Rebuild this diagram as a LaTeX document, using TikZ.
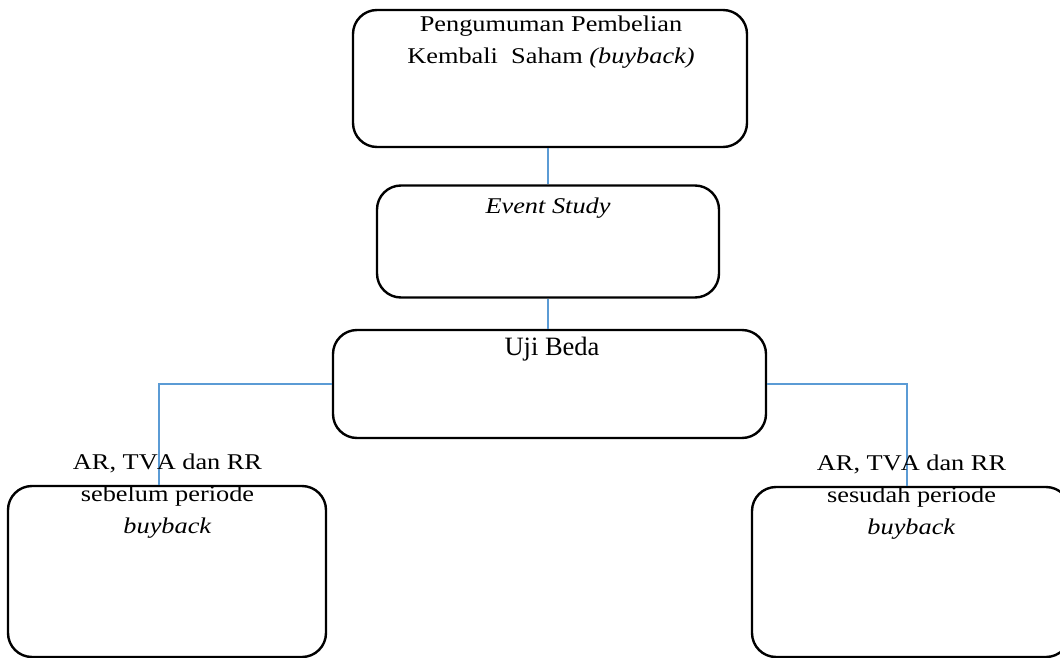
\documentclass[tikz,border=0pt]{standalone}
\usepackage{fontspec}
\setmainfont[FakeStretch=1.17]{Liberation Serif}
\newfontfamily\plainserif{Liberation Serif}
\definecolor{connblue}{HTML}{5B9BD5}
\begin{document}
\begin{tikzpicture}[x=1pt,y=-1pt,
  box/.style={draw=black, line width=2.4pt, rounded corners=24pt, minimum width=#1, inner sep=0pt},
  txt/.style={inner sep=0pt, anchor=base, align=center, font=\fontsize{22.5}{32}\selectfont},
  conn/.style={draw=connblue, line width=1.1pt}]
\useasboundingbox (0,0) rectangle (1060,658);
% boxes
\node[box=394pt, minimum height=137pt] (b1) at (550,78.5) {};
\node[box=342pt, minimum height=112pt] (b2) at (548,241.5) {};
\node[box=433pt, minimum height=108pt] (b3) at (549.5,384) {};
\node[box=318pt, minimum height=171pt] (b4) at (167,571.5) {};
\node[box=318pt, minimum height=170pt] (b5) at (911,572) {};
% connectors
\draw[conn] (b1.south -| b2.north) -- (b2.north);
\draw[conn] (b2.south) -- (b2.south |- b3.north);
\draw[conn] (b3.west) -| ([xshift=-8pt]b4.north);
\draw[conn] (b3.east) -| ([xshift=-4pt]b5.north);
% texts (anchor=base is the baseline of the last line)
\node[txt] (t1) at (551,64) {Pengumuman Pembelian\\Kembali\ \ Saham \textit{(buyback)}};
\node[txt] (t2) at (548,213) {\textit{Event Study}};
\node[txt, font=\plainserif\fontsize{26.5}{32}\selectfont] (t3) at (552,355) {Uji Beda};
\node[txt] (t4) at (167.5,533) {AR, TV\kern-1ptA dan RR\\sebelum periode\\\textit{buyback}};
\node[txt] (t5) at (911.5,534) {AR, TV\kern-1ptA dan RR\\sesudah periode\\\textit{buyback}};
\end{tikzpicture}
\end{document}
